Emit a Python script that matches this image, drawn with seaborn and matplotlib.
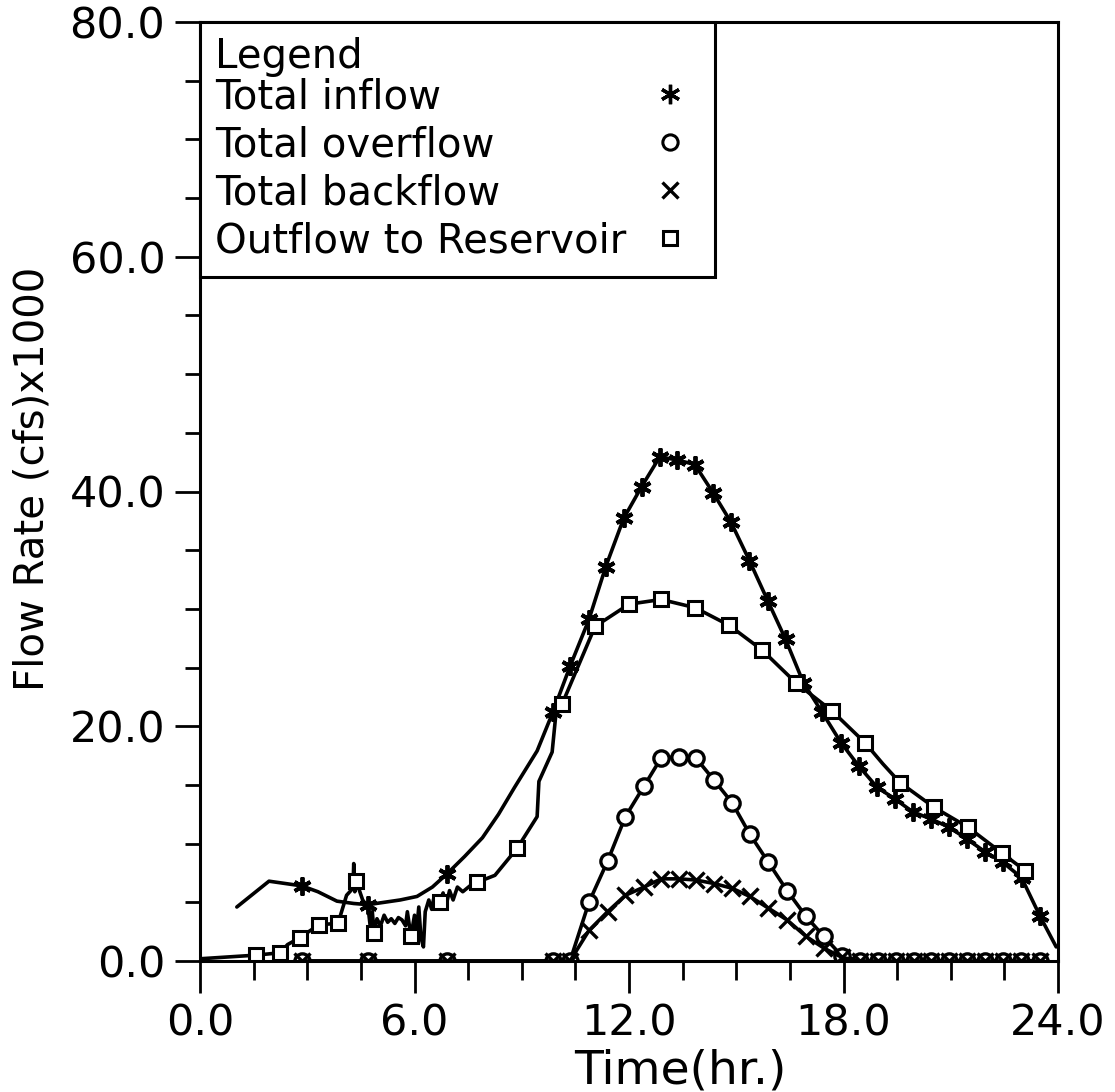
import numpy as np
import pandas as pd
import matplotlib
matplotlib.use("Agg")
import matplotlib.pyplot as plt
from matplotlib.lines import Line2D
from matplotlib.ticker import MultipleLocator, FormatStrFormatter
import seaborn as sns

# ---- hydrograph data: time in hours, flow in cfs x 1000 ----
inflow_t = [1.03, 1.93, 2.85, 3.30, 3.83, 4.30, 4.70, 5.15, 5.60, 6.07, 6.50, 6.90,
            7.40, 7.90, 8.35, 8.80, 9.43, 9.87, 10.35, 10.88, 11.35, 11.85, 12.35,
            12.86, 13.33, 13.84, 14.35, 14.85, 15.37, 15.88, 16.38, 16.88, 17.40,
            17.93, 18.43, 18.94, 19.44, 19.94, 20.45, 20.95, 21.45, 21.96, 22.46,
            22.98, 23.50, 23.95]
inflow_v = [4.6, 6.8, 6.4, 5.9, 5.1, 4.9, 4.8, 5.0, 5.2, 5.5, 6.3, 7.4,
            8.9, 10.5, 12.5, 14.8, 17.9, 21.2, 25.1, 29.1, 33.6, 37.7, 40.4,
            42.95, 42.7, 42.3, 39.9, 37.4, 34.1, 30.7, 27.4, 23.7, 21.2,
            18.6, 16.6, 14.8, 13.8, 12.7, 12.1, 11.4, 10.4, 9.3, 8.4,
            7.1, 3.8, 1.2]
inflow_marked = [2.85, 4.70, 6.90] + inflow_t[17:45]

overflow_t = [2.85, 4.70, 6.90, 9.87, 10.35, 10.88, 11.40, 11.90, 12.42, 12.90,
              13.40, 13.87, 14.38, 14.88, 15.38, 15.90, 16.42, 16.95, 17.45, 17.96,
              18.46, 18.97, 19.47, 19.97, 20.45, 20.95, 21.45, 21.96, 22.46, 22.97,
              23.50]
overflow_v = [0.0, 0.0, 0.0, 0.0, 0.0, 5.0, 8.5, 12.3, 14.9, 17.3,
              17.4, 17.3, 15.4, 13.5, 10.8, 8.4, 6.0, 3.8, 2.1, 0.4,
              0.0, 0.0, 0.0, 0.0, 0.0, 0.0, 0.0, 0.0, 0.0, 0.0,
              0.0]

backflow_t = overflow_t
backflow_v = [0.0, 0.0, 0.0, 0.0, 0.0, 2.6, 4.2, 5.6, 6.3, 7.0,
              7.0, 6.9, 6.6, 6.2, 5.5, 4.5, 3.5, 2.1, 1.1, 0.3,
              0.0, 0.0, 0.0, 0.0, 0.0, 0.0, 0.0, 0.0, 0.0, 0.0,
              0.0]

outflow_t = [0.05, 1.57, 2.24, 2.45, 2.80, 3.33, 3.86, 4.10, 4.28, 4.30, 4.33, 4.37,
             4.55, 4.70, 4.76, 4.82, 4.87, 4.95, 5.05, 5.15, 5.25, 5.35, 5.45,
             5.55, 5.65, 5.75, 5.80, 5.90, 6.00, 6.05, 6.12, 6.18, 6.25, 6.30,
             6.40, 6.48, 6.55, 6.62, 6.70, 6.80, 6.88, 6.98, 7.08, 7.20, 7.35,
             7.55, 7.75, 8.25, 8.87, 9.43, 9.48, 9.85, 9.96, 10.13, 11.05, 12.00,
             12.90, 13.85, 14.80, 15.72, 16.67, 17.68, 18.60, 19.10, 19.58, 20.53,
             21.48, 22.43, 23.08]
outflow_v = [0.2, 0.5, 0.7, 1.4, 2.0, 3.1, 3.2, 5.6, 6.2, 8.3, 5.9, 6.8,
             5.2, 4.6, 3.0, 4.2, 2.4, 3.6, 3.0, 3.9, 3.3, 3.6, 3.2,
             3.7, 3.5, 3.0, 4.2, 2.1, 3.9, 2.3, 4.6, 2.0, 1.2, 4.2,
             5.2, 4.4, 5.5, 4.6, 5.0, 5.8, 4.7, 6.0, 5.2, 6.3, 5.9,
             6.4, 6.7, 7.3, 9.6, 12.3, 15.3, 17.8, 21.2, 21.9, 28.5, 30.4,
             30.8, 30.1, 28.6, 26.5, 23.7, 21.3, 18.6, 16.8, 15.2, 13.1,
             11.4, 9.2, 7.7]
outflow_marked = [1.57, 2.24, 2.80, 3.33, 3.86, 4.37, 4.87, 5.90, 6.70, 7.75, 8.87,
                  10.13, 11.05, 12.00, 12.90, 13.85, 14.80, 15.72, 16.67, 17.68,
                  18.60, 19.58, 20.53, 21.48, 22.43, 23.08]

series_labels = ["Total inflow", "Total overflow", "Total backflow",
                 "Outflow to Reservoir"]
x_ticks = [0.0, 6.0, 12.0, 18.0, 24.0]
y_ticks = [0.0, 20.0, 40.0, 60.0, 80.0]

sns.set_style("ticks")
plt.rcParams["font.family"] = ["DejaVu Sans"]
plt.rcParams["text.color"] = "black"
plt.rcParams["axes.labelcolor"] = "black"
plt.rcParams["xtick.color"] = "black"
plt.rcParams["ytick.color"] = "black"

fig = plt.figure(figsize=(11.15, 10.92), dpi=100)
ax = fig.add_axes([200 / 1115, 1 - 961 / 1092, 858 / 1115, 939 / 1092])

LW = 2.6


def mark_idx(ts, marked):
    keep = set(marked)
    return [i for i, t in enumerate(ts) if t in keep]


# Total inflow
sns.lineplot(x=inflow_t, y=inflow_v, ax=ax, sort=False, estimator=None,
             color="black", lw=LW, marker=(6, 2, 0), markersize=13,
             markeredgewidth=2.8, markeredgecolor="black",
             markevery=mark_idx(inflow_t, inflow_marked))

# Outflow to reservoir
sns.lineplot(x=outflow_t, y=outflow_v, ax=ax, sort=False, estimator=None,
             color="black", lw=LW, marker="s", markersize=10,
             markerfacecolor="white", markeredgewidth=2.2, markeredgecolor="black",
             markevery=mark_idx(outflow_t, outflow_marked))

# Total overflow
sns.lineplot(x=overflow_t, y=overflow_v, ax=ax, sort=False, estimator=None,
             color="black", lw=LW, marker="o", markersize=11,
             markerfacecolor="white", markeredgewidth=2.4, markeredgecolor="black")

# Total backflow
sns.lineplot(x=backflow_t, y=backflow_v, ax=ax, sort=False, estimator=None,
             color="black", lw=LW, marker="x", markersize=12,
             markeredgewidth=2.4, markeredgecolor="black")

ax.set_xlim(0, 24)
ax.set_ylim(0, 80)
ax.set_xticks(x_ticks)
ax.set_yticks(y_ticks)
ax.xaxis.set_minor_locator(MultipleLocator(1.5))
ax.yaxis.set_minor_locator(MultipleLocator(5))
ax.xaxis.set_major_formatter(FormatStrFormatter("%.1f"))
ax.yaxis.set_major_formatter(FormatStrFormatter("%.1f"))

for s in ax.spines.values():
    s.set_linewidth(2.2)
    s.set_color("black")
    s.set_zorder(3)

ax.tick_params(axis="x", which="major", direction="out", length=23, width=2.0,
               pad=7, labelsize=31)
ax.tick_params(axis="x", which="minor", direction="out", length=14, width=2.0)
ax.tick_params(axis="y", which="major", direction="out", length=18, width=2.0,
               pad=7, labelsize=31)
ax.tick_params(axis="y", which="minor", direction="out", length=11, width=2.0)

ax.set_xlabel("Time(hr.)", fontsize=34)
ax.set_ylabel("Flow Rate (cfs)x1000", fontsize=29)
ax.xaxis.set_label_coords((680 - 200) / 858, (961 - 1049) / 939)
ax.yaxis.set_label_coords((53 - 200) / 858, (961 - 479) / 939)

handles = [
    Line2D([], [], ls="none", marker=(6, 2, 0), markersize=14, markeredgewidth=2.4,
           color="black"),
    Line2D([], [], ls="none", marker="o", markersize=11, markerfacecolor="white",
           markeredgewidth=2.2, markeredgecolor="black"),
    Line2D([], [], ls="none", marker="x", markersize=11, markeredgewidth=2.4,
           color="black"),
    Line2D([], [], ls="none", marker="s", markersize=10, markerfacecolor="white",
           markeredgewidth=2.2, markeredgecolor="black"),
]
leg = ax.legend(handles, series_labels, title="Legend", loc="upper left",
                bbox_to_anchor=(0, 1), borderaxespad=0, markerfirst=False,
                alignment="left", frameon=True, fancybox=False, framealpha=1,
                edgecolor="black", fontsize=29, title_fontsize=29,
                handlelength=1.5, handletextpad=0.32, labelspacing=0.2,
                borderpad=0.38)
leg.get_frame().set_linewidth(2.2)
leg._legend_box.sep = 0

# keep label text flush left with the symbols in a right-hand column
fig.canvas.draw()
renderer = fig.canvas.get_renderer()
rows = leg._legend_handle_box.get_children()[0].get_children()
widths = [t.get_window_extent(renderer).width for t in leg.get_texts()]
widest = max(widths)
for row, w in zip(rows, widths):
    row.sep += (widest - w) * 72.0 / fig.dpi

fig.savefig("out.png", dpi=100)
